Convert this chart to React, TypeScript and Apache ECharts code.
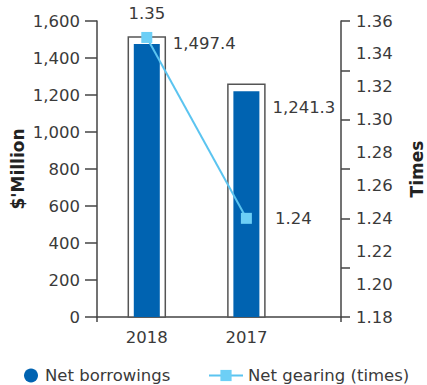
import React, { useEffect, useRef } from "react";
import * as echarts from "echarts";

const categories: string[] = ["2018", "2017"];
const netBorrowings: number[] = [1497.4, 1241.3];
const netGearing: number[] = [1.35, 1.24];
const leftTicks = { min: 0, max: 1600, interval: 200 };
const rightTicks = { min: 1.18, max: 1.36, interval: 0.02 };

// layout-only tweaks for label placement (pixels)
const barLabelDy = [4, 20];

const FONT = "DejaVu Sans";
const BLUE = "#0063B1";
const LIGHT = "#5BC4F0";
const MARK = "#6DCFF6";
const AXIS = "#444";
const TXT = "#3a3a3a";

export default function App() {
  const ref = useRef<HTMLDivElement>(null);
  useEffect(() => {
    if (!ref.current) return;
    const chart = echarts.init(ref.current, null, { renderer: "svg" });
    const fmtComma = (v: number) =>
      v.toLocaleString("en-US", { maximumFractionDigits: 1, minimumFractionDigits: 0 });
    const xMax = 2.45;
    const option: any = {
      animation: false,
      textStyle: { fontFamily: FONT },
      grid: {
        left: 97,
        right: 86,
        top: 21,
        bottom: 68,
        containLabel: false,
        outerBoundsMode: "none",
      },
      legend: [
        {
          data: [{ name: "Net borrowings", icon: "circle" }],
          left: 19,
          top: 362,
          itemWidth: 18,
          itemHeight: 14,
          textStyle: { fontSize: 16.5, color: TXT, fontFamily: FONT },
        },
        {
          data: [{ name: "Net gearing (times)" }],
          left: 203,
          top: 362,
          itemWidth: 34,
          itemHeight: 14,
          textStyle: { fontSize: 16.5, color: TXT, fontFamily: FONT },
        },
      ],
      xAxis: [
        {
          type: "value",
          min: 0,
          max: xMax,
          interval: 0.5,
          splitLine: { show: false },
          axisLine: { show: true, onZero: false, lineStyle: { color: AXIS, width: 1.5 } },
          axisTick: { show: false },
          axisLabel: {
            margin: 12,
            fontSize: 16.5,
            color: TXT,
            fontFamily: FONT,
            showMaxLabel: false,
            formatter: (v: number) => {
              for (let i = 0; i < categories.length; i++) {
                if (Math.abs(v - (i + 0.5)) < 1e-6) return categories[i];
              }
              return "";
            },
          },
        },
        {
          type: "value",
          min: 0,
          max: xMax,
          interval: xMax,
          position: "bottom",
          splitLine: { show: false },
          axisLine: { show: false, onZero: false },
          axisTick: { show: true, length: 5, lineStyle: { color: AXIS, width: 1.5 } },
          axisLabel: { show: false },
        },
      ],
      yAxis: [
        {
          type: "value",
          position: "left",
          min: leftTicks.min,
          max: leftTicks.max,
          interval: leftTicks.interval,
          name: "$'Million",
          nameLocation: "middle",
          nameGap: 71,
          nameMoveOverlap: false,
          nameTextStyle: { fontWeight: "bold", fontSize: 17, color: "#222", fontFamily: FONT },
          splitLine: { show: false },
          axisLine: { show: true, onZero: false, lineStyle: { color: AXIS, width: 1.5 } },
          axisTick: { show: true, length: 12, lineStyle: { color: AXIS, width: 1.5 } },
          axisLabel: {
            margin: 17,
            fontSize: 16.5,
            color: TXT,
            fontFamily: FONT,
            formatter: (v: number) => v.toLocaleString("en-US"),
          },
        },
        {
          type: "value",
          position: "right",
          min: rightTicks.min,
          max: rightTicks.max,
          interval: rightTicks.interval,
          name: "Times",
          nameLocation: "middle",
          nameGap: 67,
          nameMoveOverlap: false,
          nameTextStyle: { fontWeight: "bold", fontSize: 17, color: "#222", fontFamily: FONT },
          splitLine: { show: false },
          axisLine: { show: true, onZero: false, lineStyle: { color: AXIS, width: 1.5 } },
          axisTick: { show: false },
          axisLabel: {
            margin: 15,
            fontSize: 16.5,
            color: TXT,
            fontFamily: FONT,
            formatter: (v: number) => v.toFixed(2),
          },
        },
        {
          type: "value",
          position: "right",
          min: 0,
          max: 6,
          interval: 1,
          splitLine: { show: false },
          axisLine: { show: false, onZero: false },
          axisTick: { show: true, length: 9, lineStyle: { color: AXIS, width: 1.5 } },
          axisLabel: { show: false },
        },
      ],
      series: [
        {
          name: "Net borrowings",
          type: "custom",
          xAxisIndex: 0,
          yAxisIndex: 0,
          itemStyle: { color: BLUE },
          data: netBorrowings.map((v, i) => [i + 0.5, v]),
          renderItem: (params: any, api: any) => {
            const x = api.value(0);
            const v = api.value(1);
            const idx = params.dataIndex;
            const top = api.coord([x, v]);
            const base = api.coord([x, 0]);
            return {
              type: "group",
              children: [
                {
                  type: "rect",
                  shape: { x: top[0] - 18.5, y: top[1] - 3, width: 37, height: base[1] - top[1] + 3 },
                  style: { fill: "#fff", stroke: "#555", lineWidth: 1.5 },
                },
                {
                  type: "rect",
                  shape: { x: top[0] - 13, y: top[1] + 4, width: 26, height: base[1] - top[1] - 4 },
                  style: { fill: BLUE },
                },
                {
                  type: "text",
                  x: top[0] + 26,
                  y: top[1] + barLabelDy[idx],
                  style: {
                    text: fmtComma(v),
                    fill: TXT,
                    fontSize: 16.5,
                    fontFamily: FONT,
                    verticalAlign: "middle",
                    align: "left",
                  },
                },
              ],
            };
          },
        },
        {
          name: "Net gearing (times)",
          type: "line",
          xAxisIndex: 0,
          yAxisIndex: 1,
          symbol: "rect",
          symbolSize: 11,
          itemStyle: { color: MARK },
          lineStyle: { color: LIGHT, width: 2 },
          data: netGearing.map((v, i) => ({
            value: [i + 0.5, v],
            label: i === 0 ? { position: "top", distance: 10 } : { position: "right", distance: 23 },
          })),
          label: {
            show: true,
            fontSize: 16.5,
            color: TXT,
            fontFamily: FONT,
            formatter: (p: any) => p.value[1].toFixed(2),
          },
          z: 5,
        },
      ],
    };
    chart.setOption(option);
    return () => chart.dispose();
  }, []);
  return (
    <div
      ref={ref}
      style={{ position: "fixed", left: 0, top: 0, width: 427, height: 385, background: "#fff" }}
    />
  );
}
